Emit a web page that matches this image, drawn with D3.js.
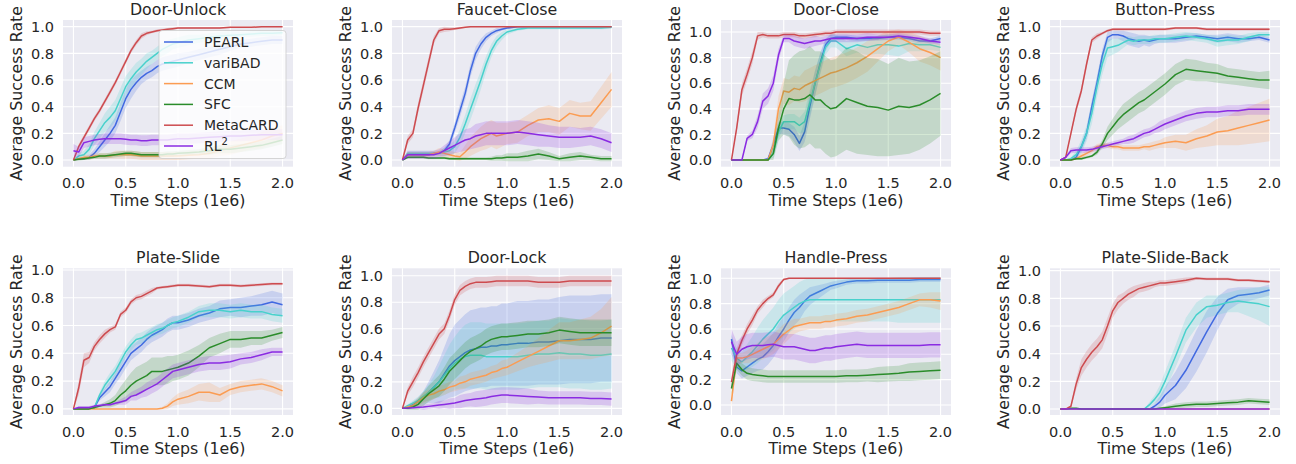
<!DOCTYPE html>
<html><head><meta charset="utf-8">
<script src="https://cdn.jsdelivr.net/npm/d3@7"></script>
<style>html,body{margin:0;padding:0;background:#fff;}svg{display:block;font-family:"DejaVu Sans",sans-serif;}</style>
</head><body><svg id="chart" width="1296" height="464"></svg>
<script>
// ---------------- DATA ----------------
const steps = [0,.05,.1,.15,.2,.25,.3,.35,.4,.45,.5,.55,.6,.65,.7,.75,.8,.85,.9,.95,1,1.1,1.2,1.3,1.4,1.5,1.6,1.7,1.8,1.9,2];
const methods = ["PEARL","variBAD","CCM","SFC","MetaCARD","RL2"];
const colors = ["#4169e1","#48d1cc","#fb9c52","#2a8c2a","#cd4b4f","#8a2be2"];
const tasks = ["Door-Unlock","Faucet-Close","Door-Close","Button-Press","Plate-Slide","Door-Lock","Handle-Press","Plate-Slide-Back"];
const xTicks = [0,0.5,1,1.5,2];
const yTicks = [0,0.2,0.4,0.6,0.8,1.0];

// rows: PEARL, variBAD, CCM, SFC, MetaCARD, RL2
const doorUnlockMean = [
 [0,.01,.01,.02,.05,.1,.15,.2,.26,.36,.46,.53,.58,.62,.65,.67,.7,.72,.73,.74,.75,.77,.79,.81,.83,.85,.87,.88,.89,.9,.9],
 [0,.03,.04,.08,.16,.22,.28,.32,.37,.46,.55,.61,.66,.7,.74,.77,.8,.83,.85,.87,.88,.9,.91,.92,.93,.935,.94,.945,.95,.95,.955],
 [0,.01,.02,.02,.03,.03,.03,.03,.04,.04,.04,.04,.035,.03,.03,.03,.03,.03,.03,.03,.03,.035,.04,.05,.07,.09,.11,.13,.15,.18,.2],
 [0,.005,.01,.015,.02,.03,.03,.035,.04,.045,.05,.05,.045,.04,.04,.04,.04,.04,.045,.045,.05,.055,.06,.07,.08,.08,.09,.1,.11,.13,.15],
 [0,.1,.17,.24,.31,.37,.44,.51,.58,.66,.74,.82,.88,.93,.95,.96,.97,.975,.98,.985,.99,.99,.99,.99,.99,.995,.995,.995,1,1,1],
 [.07,.06,.13,.14,.15,.155,.16,.16,.16,.16,.155,.15,.15,.145,.145,.15,.15,.15,.15,.155,.16,.16,.165,.17,.175,.18,.18,.185,.19,.19,.19]];
const doorUnlockBand = [
 [0,.01,.01,.02,.03,.04,.05,.06,.06,.07,.07,.07,.06,.05,.05,.05,.05,.05,.05,.05,.05,.04,.04,.04,.04,.03,.03,.03,.03,.03,.03],
 [0,.02,.03,.04,.05,.06,.07,.08,.08,.08,.08,.07,.07,.06,.06,.05,.05,.05,.05,.04,.04,.04,.03,.03,.03,.03,.02,.02,.02,.02,.02],
 [0,.01,.02,.02,.02,.02,.02,.02,.03,.03,.03,.03,.03,.03,.03,.03,.03,.03,.03,.03,.03,.03,.03,.04,.04,.05,.05,.05,.06,.06,.06],
 [0,.01,.01,.01,.01,.02,.02,.02,.02,.02,.02,.02,.02,.02,.02,.02,.02,.02,.02,.02,.02,.02,.02,.03,.03,.03,.03,.03,.03,.03,.03],
 [0,.02,.02,.02,.02,.02,.02,.02,.02,.02,.02,.02,.02,.02,.015,.01,.01,.01,.01,.01,.005,.005,.005,.005,.005,.005,.005,.005,.005,.005,.005],
 [.05,.04,.04,.04,.04,.04,.04,.04,.04,.04,.04,.04,.04,.04,.04,.04,.04,.04,.04,.04,.04,.04,.04,.04,.04,.04,.04,.04,.04,.04,.04]];

const faucetCloseMean = [
 [0,.04,.04,.04,.04,.04,.05,.05,.07,.12,.24,.37,.5,.67,.8,.87,.92,.95,.97,.98,.99,1,1,1,1,1,1,1,1,1,1],
 [0,.05,.05,.05,.05,.05,.05,.05,.06,.07,.1,.17,.27,.38,.49,.6,.72,.82,.89,.93,.96,.98,.99,.99,.99,.99,.99,.99,.99,.99,.995],
 [0,.04,.04,.04,.04,.04,.05,.06,.05,.04,.03,.025,.06,.1,.13,.16,.18,.2,.18,.19,.2,.21,.26,.3,.31,.29,.35,.33,.33,.43,.53],
 [0,.02,.02,.02,.02,.015,.015,.015,.015,.01,.01,.01,.01,.01,.01,.01,.01,.01,.015,.015,.02,.02,.03,.045,.03,.01,.02,.03,.02,.01,.01],
 [0,.15,.2,.39,.56,.73,.9,.97,.98,.98,.985,.99,.995,1,1,1,1,1,1,1,1,1,1,1,1,1,1,1,1,1,1],
 [0,.04,.04,.04,.04,.04,.04,.05,.07,.09,.11,.13,.15,.16,.18,.19,.2,.2,.2,.2,.2,.21,.2,.19,.18,.17,.17,.17,.18,.16,.13]];
const faucetCloseBand = [
 [0,.01,.01,.01,.01,.01,.01,.01,.02,.03,.04,.05,.05,.05,.05,.04,.03,.02,.02,.01,.01,.005,.005,.005,.005,.005,.005,.005,.005,.005,.005],
 [0,.02,.02,.02,.02,.02,.02,.02,.03,.04,.05,.06,.07,.08,.08,.07,.06,.05,.04,.03,.02,.01,.01,.01,.01,.01,.01,.01,.01,.01,.01],
 [0,.02,.02,.02,.02,.02,.02,.03,.03,.03,.03,.03,.05,.07,.08,.09,.1,.1,.1,.09,.08,.08,.08,.09,.1,.1,.1,.1,.11,.12,.13],
 [0,.01,.01,.01,.01,.01,.01,.01,.01,.01,.01,.01,.01,.01,.01,.01,.01,.015,.02,.02,.03,.03,.04,.04,.03,.02,.03,.03,.02,.02,.02],
 [0,.03,.03,.04,.04,.04,.03,.02,.02,.015,.01,.01,.005,.005,.005,.005,.005,.005,.005,.005,.005,.005,.005,.005,.005,.005,.005,.005,.005,.005,.005],
 [0,.03,.03,.03,.03,.03,.03,.03,.04,.05,.06,.07,.08,.08,.09,.09,.09,.09,.09,.09,.09,.09,.09,.09,.08,.08,.08,.07,.07,.07,.07]];

const doorCloseMean = [
 [0,0,0,0,0,0,0,.01,.12,.25,.25,.24,.2,.13,.22,.42,.6,.76,.9,.95,.96,.96,.95,.95,.95,.96,.96,.95,.93,.93,.95],
 [0,0,0,0,0,0,0,0,.05,.22,.3,.3,.3,.27,.3,.45,.6,.75,.88,.93,.93,.87,.9,.88,.9,.9,.89,.91,.9,.9,.88],
 [0,0,0,0,0,0,0,0,.12,.4,.54,.53,.56,.55,.58,.6,.62,.64,.66,.68,.69,.72,.76,.81,.87,.93,.96,.92,.87,.84,.8],
 [0,0,0,0,0,0,0,0,.05,.25,.4,.48,.47,.47,.48,.51,.47,.47,.43,.4,.41,.48,.45,.42,.41,.39,.42,.41,.43,.47,.52],
 [0,.25,.55,.67,.8,.97,.98,.97,.97,.97,.98,.98,.98,.97,.97,.975,.98,.985,.99,.99,1,1,1,1,1,1,1,1,1,.99,.99],
 [0,0,0,.17,.2,.3,.46,.5,.6,.82,.95,.95,.93,.92,.91,.92,.93,.93,.94,.95,.95,.95,.95,.96,.96,.96,.97,.96,.95,.93,.92]];
const doorCloseBand = [
 [0,0,0,0,0,0,0,.01,.05,.05,.05,.05,.06,.06,.08,.1,.1,.08,.05,.03,.02,.02,.02,.02,.02,.02,.02,.02,.02,.02,.02],
 [0,0,0,0,0,0,0,0,.03,.05,.05,.06,.06,.06,.08,.1,.1,.08,.06,.05,.05,.06,.06,.06,.07,.08,.08,.06,.05,.04,.03],
 [0,0,0,0,0,0,0,0,.05,.1,.1,.1,.1,.1,.12,.12,.12,.12,.12,.12,.12,.12,.12,.12,.1,.08,.06,.08,.1,.1,.1],
 [0,0,0,0,0,0,0,0,.05,.1,.2,.3,.35,.38,.38,.38,.38,.38,.38,.38,.38,.4,.4,.38,.38,.36,.38,.36,.35,.34,.33],
 [0,.03,.05,.05,.05,.03,.02,.02,.02,.02,.02,.02,.02,.02,.02,.02,.02,.02,.02,.02,.02,.02,.02,.02,.02,.02,.02,.02,.02,.02,.02],
 [0,0,0,.02,.03,.05,.06,.06,.06,.05,.03,.03,.04,.04,.04,.04,.04,.03,.03,.03,.03,.03,.03,.03,.02,.02,.02,.02,.02,.02,.02]];

const buttonPressMean = [
 [0,0,0,.02,.1,.2,.4,.58,.78,.92,.94,.94,.93,.91,.9,.89,.9,.89,.9,.91,.91,.91,.92,.93,.92,.91,.92,.91,.91,.92,.9],
 [0,0,.01,.04,.1,.2,.35,.55,.72,.84,.85,.86,.88,.9,.89,.9,.9,.9,.91,.91,.91,.92,.93,.92,.91,.89,.9,.9,.92,.94,.94],
 [0,0,0,.01,.03,.05,.07,.1,.11,.11,.1,.1,.09,.09,.09,.09,.1,.1,.11,.12,.13,.14,.13,.16,.18,.21,.22,.24,.26,.28,.3],
 [0,0,0,.01,.01,.02,.03,.06,.12,.2,.25,.3,.34,.37,.4,.43,.45,.48,.51,.54,.57,.64,.68,.67,.66,.65,.63,.62,.61,.6,.6],
 [0,.02,.2,.38,.52,.72,.9,.93,.95,.97,.98,.98,.98,.98,.98,.98,.98,.98,.98,.98,.98,.99,.99,.99,.98,.98,.98,.98,.98,.98,.98],
 [0,.02,.07,.075,.075,.075,.08,.09,.1,.11,.12,.13,.14,.15,.16,.18,.2,.21,.23,.25,.27,.3,.33,.35,.36,.36,.37,.37,.38,.38,.38]];
const buttonPressBand = [
 [0,0,0,.02,.03,.04,.05,.05,.05,.04,.03,.03,.04,.05,.05,.05,.04,.04,.03,.03,.03,.03,.03,.02,.02,.03,.03,.03,.02,.02,.02],
 [0,0,.01,.03,.05,.06,.08,.08,.08,.07,.06,.05,.04,.03,.03,.03,.03,.03,.03,.03,.03,.03,.03,.03,.03,.04,.04,.03,.03,.02,.02],
 [0,0,0,.01,.02,.02,.02,.02,.02,.02,.02,.02,.02,.02,.02,.02,.02,.03,.03,.03,.04,.05,.06,.07,.08,.1,.11,.13,.14,.15,.16],
 [0,0,0,.01,.01,.01,.01,.02,.03,.05,.06,.07,.08,.08,.08,.08,.08,.08,.08,.08,.08,.08,.08,.08,.07,.07,.06,.06,.06,.06,.07],
 [0,.01,.02,.03,.03,.03,.02,.02,.01,.01,.01,.01,.01,.01,.01,.01,.01,.01,.01,.01,.01,.01,.01,.01,.01,.01,.01,.01,.01,.01,.01],
 [0,.01,.02,.02,.02,.02,.02,.02,.02,.02,.02,.02,.02,.03,.03,.03,.03,.03,.03,.04,.04,.04,.04,.04,.04,.04,.04,.04,.04,.04,.04]];

const plateSlideMean = [
 [0,0,0,0,.01,.08,.12,.16,.22,.28,.34,.4,.43,.46,.5,.53,.55,.57,.6,.62,.62,.64,.67,.69,.72,.73,.73,.74,.75,.77,.75],
 [0,0,0,0,.01,.1,.17,.22,.27,.34,.41,.46,.5,.51,.53,.55,.57,.58,.6,.62,.63,.66,.7,.71,.71,.7,.71,.7,.7,.68,.67],
 [0,0,0,0,0,0,0,0,0,0,0,0,0,0,0,0,0,.005,.02,.05,.07,.09,.12,.12,.1,.14,.16,.17,.18,.16,.13],
 [0,0,0,0,.01,.02,.03,.04,.06,.1,.13,.17,.2,.22,.24,.27,.27,.27,.28,.29,.3,.33,.38,.44,.47,.5,.5,.51,.51,.53,.55],
 [0,.15,.35,.37,.45,.5,.54,.57,.59,.68,.71,.77,.8,.81,.83,.85,.87,.875,.88,.885,.89,.89,.885,.88,.89,.89,.885,.89,.895,.9,.9],
 [0,.01,.01,.01,.02,.025,.03,.03,.04,.05,.06,.09,.1,.12,.14,.16,.18,.21,.24,.27,.28,.3,.32,.33,.33,.34,.36,.37,.39,.41,.41]];
const plateSlideBand = [
 [0,0,0,0,.01,.02,.03,.04,.04,.05,.05,.05,.05,.05,.05,.05,.05,.05,.05,.05,.05,.05,.05,.05,.06,.06,.07,.07,.08,.08,.08],
 [0,0,0,0,.01,.02,.03,.04,.04,.04,.04,.04,.04,.04,.04,.04,.04,.04,.04,.04,.04,.04,.04,.05,.05,.05,.05,.05,.05,.05,.05],
 [0,0,0,0,0,0,0,0,0,0,0,0,0,0,0,0,0,.01,.02,.03,.04,.05,.06,.07,.05,.04,.04,.04,.04,.04,.04],
 [0,0,0,0,.01,.01,.02,.03,.04,.06,.08,.09,.1,.1,.1,.1,.1,.1,.1,.09,.09,.09,.08,.07,.07,.06,.06,.05,.05,.04,.04],
 [0,.05,.05,.04,.03,.03,.03,.02,.02,.02,.02,.02,.02,.02,.02,.02,.01,.01,.01,.01,.01,.01,.01,.01,.01,.01,.01,.01,.01,.01,.01],
 [0,.01,.01,.01,.01,.01,.01,.01,.01,.02,.03,.03,.04,.04,.05,.05,.05,.05,.05,.05,.05,.05,.05,.05,.05,.05,.04,.04,.04,.03,.03]];

const doorLockMean = [
 [0,.01,.03,.05,.08,.12,.16,.2,.26,.32,.36,.39,.42,.44,.45,.46,.46,.47,.47,.48,.48,.49,.49,.5,.5,.51,.52,.52,.52,.53,.53],
 [0,.02,.04,.06,.09,.12,.16,.2,.25,.3,.34,.37,.39,.4,.4,.4,.39,.39,.39,.39,.39,.39,.4,.41,.41,.42,.41,.41,.4,.4,.41],
 [0,.01,.02,.05,.08,.1,.11,.13,.14,.16,.17,.19,.2,.22,.23,.24,.25,.27,.28,.3,.31,.35,.39,.43,.47,.51,.51,.52,.53,.57,.62],
 [0,0,.01,.03,.07,.11,.14,.17,.22,.28,.32,.36,.4,.43,.45,.47,.5,.52,.53,.54,.54,.55,.56,.56,.57,.59,.58,.57,.57,.57,.57],
 [0,.13,.2,.27,.35,.42,.49,.56,.6,.7,.82,.89,.92,.94,.95,.95,.95,.955,.96,.96,.96,.96,.96,.95,.95,.95,.96,.96,.96,.96,.96],
 [0,.002,.005,.008,.01,.015,.02,.025,.03,.035,.04,.05,.06,.065,.07,.075,.08,.09,.095,.1,.1,.095,.09,.085,.08,.08,.08,.08,.075,.075,.07]];
const doorLockBand = [
 [0,.01,.02,.03,.05,.08,.12,.16,.2,.24,.27,.28,.29,.3,.3,.3,.3,.3,.3,.31,.31,.32,.32,.32,.32,.33,.33,.33,.33,.33,.33],
 [0,.01,.02,.03,.04,.06,.08,.12,.15,.18,.2,.22,.24,.25,.25,.25,.25,.25,.25,.25,.25,.25,.25,.25,.25,.26,.26,.26,.26,.26,.26],
 [0,.01,.02,.03,.04,.04,.04,.04,.04,.04,.04,.05,.05,.05,.05,.05,.05,.05,.05,.06,.06,.07,.08,.1,.12,.14,.14,.15,.16,.18,.22],
 [0,.01,.02,.04,.05,.06,.07,.08,.09,.1,.1,.1,.1,.1,.1,.1,.1,.1,.1,.1,.1,.1,.1,.1,.1,.1,.1,.1,.1,.1,.1],
 [0,.03,.04,.04,.04,.04,.04,.04,.04,.04,.04,.04,.04,.04,.04,.04,.04,.04,.04,.04,.04,.04,.04,.04,.04,.04,.04,.04,.04,.04,.04],
 [0,.005,.01,.01,.02,.02,.02,.03,.03,.04,.04,.05,.05,.05,.06,.06,.06,.06,.06,.06,.06,.06,.06,.05,.05,.05,.05,.05,.05,.05,.05]];

const handlePressMean = [
 [.52,.3,.27,.3,.33,.36,.38,.42,.47,.54,.6,.67,.73,.77,.82,.86,.88,.9,.92,.94,.95,.97,.98,.98,.985,.985,.985,.985,.99,.99,.99],
 [.45,.37,.34,.38,.42,.47,.52,.56,.6,.66,.71,.74,.77,.8,.82,.83,.83,.83,.83,.83,.83,.83,.83,.83,.83,.83,.83,.83,.83,.83,.83],
 [.03,.37,.37,.38,.4,.42,.44,.46,.48,.52,.56,.59,.62,.63,.64,.65,.65,.65,.66,.66,.67,.68,.7,.71,.73,.75,.77,.8,.83,.83,.82],
 [.13,.33,.28,.25,.24,.235,.23,.225,.225,.225,.225,.225,.225,.225,.225,.225,.225,.225,.225,.225,.225,.23,.23,.235,.24,.245,.25,.26,.265,.27,.275],
 [.18,.4,.51,.6,.67,.75,.8,.84,.87,.94,.99,1,1,1,1,1,1,1,1,1,1,1,1,1,1,1,1,1,1,1,1],
 [.5,.4,.44,.46,.47,.47,.47,.475,.48,.47,.46,.46,.46,.45,.44,.43,.43,.44,.45,.45,.46,.47,.48,.47,.47,.47,.47,.47,.47,.475,.475]];
const handlePressBand = [
 [.05,.05,.06,.07,.08,.09,.1,.1,.1,.1,.1,.1,.1,.1,.08,.07,.06,.05,.04,.03,.03,.02,.02,.02,.02,.02,.02,.02,.02,.02,.02],
 [.1,.08,.08,.1,.12,.14,.15,.16,.17,.17,.17,.17,.17,.17,.17,.17,.17,.17,.17,.17,.17,.17,.17,.17,.17,.17,.18,.18,.18,.18,.18],
 [.05,.04,.04,.05,.06,.07,.08,.08,.08,.08,.08,.07,.06,.05,.05,.05,.05,.05,.05,.05,.05,.05,.05,.05,.05,.05,.05,.05,.05,.06,.07],
 [.05,.05,.05,.05,.05,.05,.05,.05,.05,.05,.05,.05,.05,.05,.05,.05,.05,.05,.05,.05,.05,.05,.05,.05,.06,.06,.06,.07,.07,.07,.07],
 [.05,.05,.04,.04,.04,.03,.03,.02,.02,.02,.01,.005,.005,.005,.005,.005,.005,.005,.005,.005,.005,.005,.005,.005,.005,.005,.005,.005,.005,.005,.005],
 [.1,.1,.1,.1,.1,.1,.1,.1,.1,.1,.1,.1,.1,.1,.1,.1,.1,.1,.1,.1,.1,.1,.1,.1,.1,.1,.1,.1,.1,.1,.1]];

const plateSlideBackMean = [
 [0,0,0,0,0,0,0,0,0,0,0,0,0,0,0,0,0,0,.02,.05,.1,.17,.28,.42,.56,.69,.79,.82,.83,.84,.86],
 [0,0,0,0,0,0,0,0,0,0,0,0,0,0,0,0,0,.03,.07,.12,.2,.38,.57,.68,.74,.75,.77,.78,.77,.76,.74],
 [0,0,0,0,0,0,0,0,0,0,0,0,0,0,0,0,0,0,0,0,0,0,0,0,0,0,0,0,0,0,0],
 [0,0,.005,.005,0,0,0,0,0,0,0,0,0,0,0,0,0,0,0,.005,.01,.02,.03,.035,.035,.04,.045,.05,.06,.055,.05],
 [0,0,.02,.18,.3,.36,.41,.45,.5,.6,.71,.77,.8,.83,.85,.87,.88,.89,.9,.91,.91,.92,.93,.945,.94,.94,.94,.93,.93,.925,.92],
 [0,0,0,0,0,0,0,0,0,0,0,0,0,0,0,0,0,0,0,0,0,0,0,0,0,0,0,0,0,0,0]];
const plateSlideBackBand = [
 [0,0,0,0,0,0,0,0,0,0,0,0,0,0,0,0,0,0,.02,.04,.06,.1,.13,.15,.15,.12,.08,.06,.05,.04,.04],
 [0,0,0,0,0,0,0,0,0,0,0,0,0,0,0,0,0,.02,.03,.05,.07,.08,.09,.09,.08,.07,.07,.08,.1,.12,.14],
 [0,0,0,0,0,0,0,0,0,0,0,0,0,0,0,0,0,0,0,0,0,0,0,0,0,0,0,0,0,0,0],
 [0,0,.005,.005,0,0,0,0,0,0,0,0,0,0,0,0,0,0,0,.005,.01,.02,.02,.02,.02,.02,.02,.02,.02,.02,.02],
 [0,0,.01,.04,.06,.06,.06,.06,.06,.06,.05,.05,.04,.04,.04,.03,.03,.03,.02,.02,.02,.02,.02,.01,.01,.01,.01,.01,.01,.01,.01],
 [0,0,0,0,0,0,0,0,0,0,0,0,0,0,0,0,0,0,0,0,0,0,0,0,0,0,0,0,0,0,0]];

const taskMeans = [doorUnlockMean, faucetCloseMean, doorCloseMean, buttonPressMean, plateSlideMean, doorLockMean, handlePressMean, plateSlideBackMean];
const taskBands = [doorUnlockBand, faucetCloseBand, doorCloseBand, buttonPressBand, plateSlideBand, doorLockBand, handlePressBand, plateSlideBackBand];

// ---------------- LAYOUT ----------------
const colLeft = [63, 392, 721, 1050];
const rowTop = [20, 268.3];
const pw = 230, ph = 146.7;
const yLims = [[-0.05,1.05],[-0.05,1.05],[-0.052,1.094],[-0.05,1.05],[-0.044,1.012],[-0.05,1.056],[-0.079,1.079],[-0.043,1.017]];
const textCol = "#262626";

const svg = d3.select("#chart");
const fmt = d3.format(".1f");

tasks.forEach((task, ti) => {
  const left = colLeft[ti % 4], top = rowTop[Math.floor(ti / 4)];
  const x = d3.scaleLinear().domain([-0.1, 2.1]).range([left, left + pw]);
  const y = d3.scaleLinear().domain(yLims[ti]).range([top + ph, top]);
  const g = svg.append("g");
  g.append("rect").attr("x", left).attr("y", top).attr("width", pw).attr("height", ph).attr("fill", "#eaeaf2");
  // grid
  g.selectAll(".gx").data(xTicks).enter().append("line")
    .attr("x1", d => x(d)).attr("x2", d => x(d)).attr("y1", top).attr("y2", top + ph)
    .attr("stroke", "#fff").attr("stroke-width", 1.1);
  g.selectAll(".gy").data(yTicks).enter().append("line")
    .attr("y1", d => y(d)).attr("y2", d => y(d)).attr("x1", left).attr("x2", left + pw)
    .attr("stroke", "#fff").attr("stroke-width", 1.1);
  // tick labels
  g.selectAll(".tx").data(xTicks).enter().append("text")
    .attr("x", d => x(d)).attr("y", top + ph + 21.5).attr("text-anchor", "middle")
    .attr("font-size", 14.5).attr("fill", textCol).text(d => fmt(d));
  g.selectAll(".ty").data(yTicks).enter().append("text")
    .attr("x", left - 9).attr("y", d => y(d)).attr("dy", "0.36em").attr("text-anchor", "end")
    .attr("font-size", 14.5).attr("fill", textCol).text(d => fmt(d));
  // labels
  g.append("text").attr("x", left + pw / 2).attr("y", top + ph + 39).attr("text-anchor", "middle")
    .attr("font-size", 15.8).attr("fill", textCol).text("Time Steps (1e6)");
  g.append("text").attr("transform", `translate(${left - 46.5},${top + ph / 2}) rotate(-90)`)
    .attr("text-anchor", "middle").attr("dy", "0.36em")
    .attr("font-size", 15.8).attr("fill", textCol).text("Average Success Rate");
  g.append("text").attr("x", left + pw / 2).attr("y", top - 5).attr("text-anchor", "middle")
    .attr("font-size", 15.8).attr("fill", textCol).text(task);
  // clip
  const cid = "clip" + ti;
  svg.append("clipPath").attr("id", cid).append("rect")
    .attr("x", left).attr("y", top).attr("width", pw).attr("height", ph);
  const plot = g.append("g").attr("clip-path", `url(#${cid})`);
  const means = taskMeans[ti], bands = taskBands[ti];
  methods.forEach((m, mi) => {
    const pts = steps.map((s, i) => ({x: s, m: means[mi][i], b: bands[mi][i]}));
    plot.append("path").datum(pts)
      .attr("d", d3.area().x(d => x(d.x)).y0(d => y(d.m - d.b)).y1(d => y(d.m + d.b)))
      .attr("fill", colors[mi]).attr("fill-opacity", 0.2).attr("stroke", "none");
    plot.append("path").datum(pts)
      .attr("d", d3.line().x(d => x(d.x)).y(d => y(d.m)))
      .attr("fill", "none").attr("stroke", colors[mi]).attr("stroke-width", 1.5)
      .attr("stroke-linejoin", "round");
  });
});

// legend in first panel
const lg = svg.append("g");
const lgX = 159, lgY = 30.5, lgW = 127, lgH = 128, rowH = 20.8;
lg.append("rect").attr("x", lgX).attr("y", lgY).attr("width", lgW).attr("height", lgH)
  .attr("rx", 3).attr("fill", "#fff").attr("fill-opacity", 0.8)
  .attr("stroke", "#cccccc").attr("stroke-opacity", 0.8).attr("stroke-width", 1);
methods.forEach((m, mi) => {
  const yy = lgY + 11.5 + mi * rowH;
  lg.append("line").attr("x1", lgX + 5).attr("x2", lgX + 34).attr("y1", yy).attr("y2", yy)
    .attr("stroke", colors[mi]).attr("stroke-width", 1.5);
  const t = lg.append("text").attr("x", lgX + 45).attr("y", yy).attr("dy", "0.36em")
    .attr("font-size", 14).attr("fill", textCol);
  if (m === "RL2") {
    t.append("tspan").text("RL");
    t.append("tspan").attr("font-size", 10).attr("dy", "-0.6em").text("2");
  } else t.text(m);
});
</script></body></html>
